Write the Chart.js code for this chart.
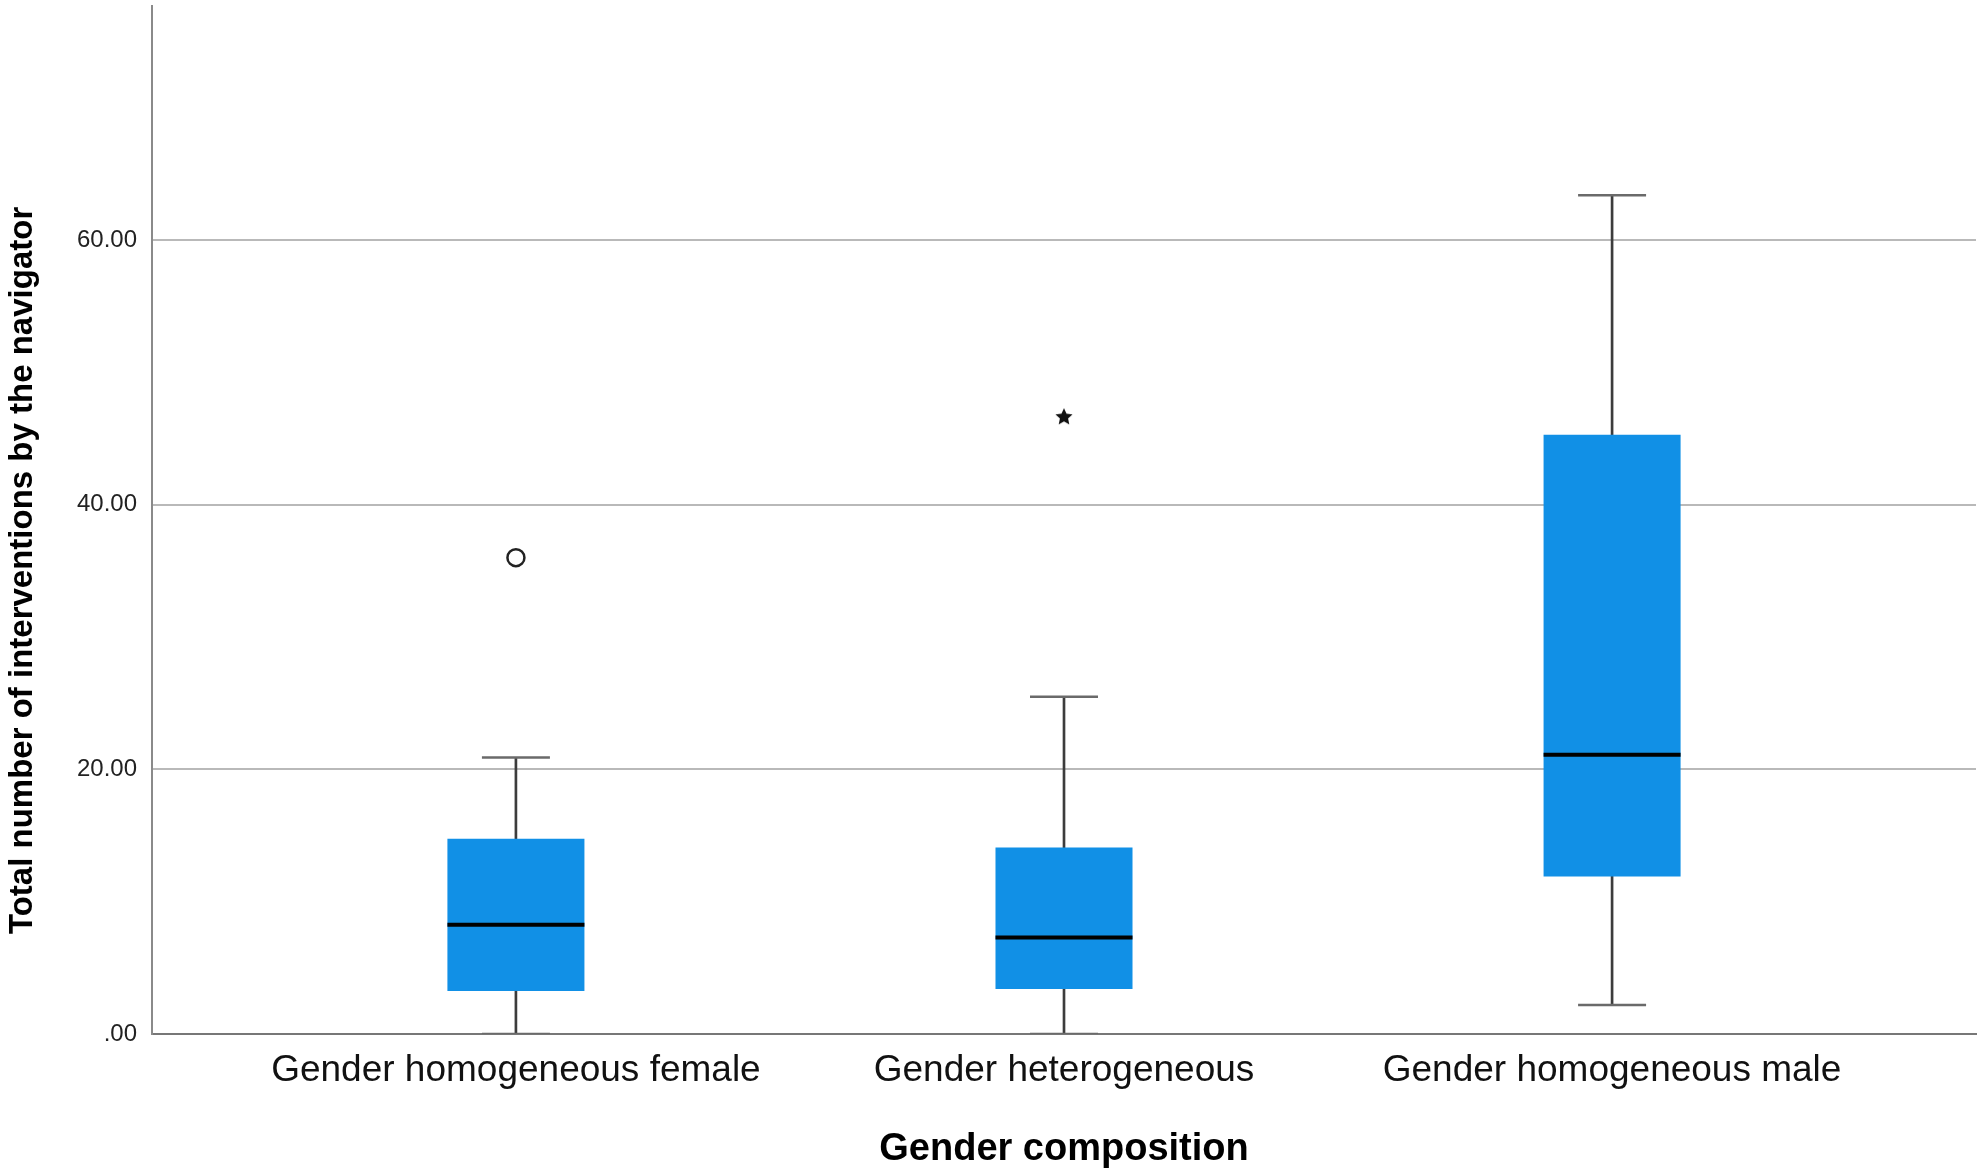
<!DOCTYPE html>
<html>
<head>
<meta charset="utf-8">
<script src="https://cdn.jsdelivr.net/npm/chart.js@4.4.1/dist/chart.umd.min.js"></script>
<style>
html, body { margin: 0; padding: 0; background: #fff; }
#wrap { width: 1983px; height: 1175px; }
</style>
</head>
<body>
<div id="wrap"><canvas id="chart"></canvas></div>
<script>
// values
const categories = ['Gender homogeneous female', 'Gender heterogeneous', 'Gender homogeneous male'];
const whiskerLow = [0, 0, 2.2];
const quartile1 = [3.25, 3.4, 11.9];
const medians = [8.25, 7.3, 21.1];
const quartile3 = [14.75, 14.1, 45.3];
const whiskerHigh = [20.9, 25.5, 63.4];
const outlierCat = [0];
const outlierVal = [36.0];
const extremeCat = [1];
const extremeVal = [46.7];
const yTicks = [0, 20, 40, 60];
const yTickLabels = ['.00', '20.00', '40.00', '60.00'];

const FONT = "'Liberation Sans', Arial, sans-serif";
const BOX_BLUE = '#1190E6';

// small filled star for the extreme value
function makeStar(size) {
    const c = document.createElement('canvas');
    c.width = size; c.height = size;
    const g = c.getContext('2d');
    const cx = size / 2, cy = size / 2 + 1, outer = size / 2, inner = size / 4.2;
    g.beginPath();
    for (let i = 0; i < 10; i++) {
        const r = i % 2 === 0 ? outer : inner;
        const a = -Math.PI / 2 + i * Math.PI / 5;
        g.lineTo(cx + r * Math.cos(a), cy + r * Math.sin(a));
    }
    g.closePath();
    g.fillStyle = '#111';
    g.fill();
    return c;
}

function noEdgePadding(scale) {
    scale.paddingTop = 0;
    scale.paddingBottom = 0;
    scale.paddingLeft = 0;
    scale.paddingRight = 0;
}

const whiskerData = categories.map((c, i) => ({ x: i, y: [whiskerLow[i], whiskerHigh[i]] }));
const boxData = categories.map((c, i) => ({ x: i, y: [quartile1[i], quartile3[i]] }));
const medianData = categories.map((c, i) => ({ x: i, y: medians[i] }));
const capData = [];
categories.forEach((c, i) => {
    capData.push({ x: i, y: whiskerLow[i] });
    capData.push({ x: i, y: whiskerHigh[i] });
});
const outlierData = outlierCat.map((c, i) => ({ x: c, y: outlierVal[i] }));
const extremeData = extremeCat.map((c, i) => ({ x: c, y: extremeVal[i] }));

const ctx = document.getElementById('chart').getContext('2d');
new Chart(ctx, {
    type: 'bar',
    data: {
        datasets: [
            {
                label: 'whiskers',
                data: whiskerData,
                backgroundColor: '#3c3c3c',
                barThickness: 2,
                grouped: false,
                order: 5
            },
            {
                label: 'boxes',
                data: boxData,
                backgroundColor: BOX_BLUE,
                borderWidth: 0,
                categoryPercentage: 1,
                barPercentage: 0.25,
                grouped: false,
                order: 4
            },
            {
                type: 'scatter',
                label: 'caps',
                data: capData,
                pointStyle: 'line',
                radius: 34,
                borderWidth: 2.5,
                borderColor: '#6a6a6a',
                order: 3
            },
            {
                type: 'scatter',
                label: 'medians',
                data: medianData,
                pointStyle: 'line',
                radius: 68.5,
                borderWidth: 4,
                borderColor: '#000',
                order: 2
            },
            {
                type: 'scatter',
                label: 'outliers',
                data: outlierData,
                pointStyle: 'circle',
                radius: 8.5,
                borderWidth: 2.5,
                borderColor: '#222',
                backgroundColor: 'rgba(255,255,255,0)',
                order: 1
            },
            {
                type: 'scatter',
                label: 'extremes',
                data: extremeData,
                pointStyle: makeStar(18),
                order: 1
            }
        ]
    },
    options: {
        responsive: true,
        maintainAspectRatio: false,
        animation: false,
        events: [],
        layout: { autoPadding: false, padding: { left: 0, right: 7, top: 6, bottom: 0 } },
        plugins: {
            legend: { display: false },
            tooltip: { enabled: false }
        },
        scales: {
            x: {
                type: 'linear',
                offset: false,
                min: -0.664,
                max: 2.664,
                afterBuildTicks: function(scale) {
                    scale.ticks = categories.map((c, i) => ({ value: i }));
                },
                afterFit: function(scale) { scale.height = 141; noEdgePadding(scale); },
                grid: { display: false, drawTicks: false },
                border: { display: true, color: '#777', width: 2 },
                ticks: {
                    padding: 15,
                    color: '#111',
                    font: { family: FONT, size: 37 },
                    callback: function(value) { return categories[value]; }
                },
                title: {
                    display: true,
                    text: 'Gender composition',
                    color: '#000',
                    font: { family: FONT, size: 38, weight: 'bold' },
                    padding: { top: 0, bottom: 3 }
                }
            },
            y: {
                min: 0,
                max: 77.7,
                afterBuildTicks: function(scale) {
                    scale.ticks = yTicks.map(v => ({ value: v }));
                },
                afterFit: function(scale) { scale.width = 152; noEdgePadding(scale); },
                grid: {
                    drawTicks: false,
                    lineWidth: 2,
                    color: function(c) { return c.tick && c.tick.value === 0 ? 'rgba(0,0,0,0)' : '#b9b9b9'; }
                },
                border: { display: true, color: '#8a8a8a', width: 2 },
                ticks: {
                    padding: 15,
                    color: '#222',
                    font: { family: FONT, size: 24 },
                    callback: function(value) { return yTickLabels[yTicks.indexOf(value)]; }
                },
                title: {
                    display: true,
                    text: 'Total number of interventions by the navigator' + '           ',
                    color: '#000',
                    font: { family: FONT, size: 33, weight: 'bold' },
                    padding: { top: 3, bottom: 0 }
                }
            }
        }
    }
});
</script>
</body>
</html>
